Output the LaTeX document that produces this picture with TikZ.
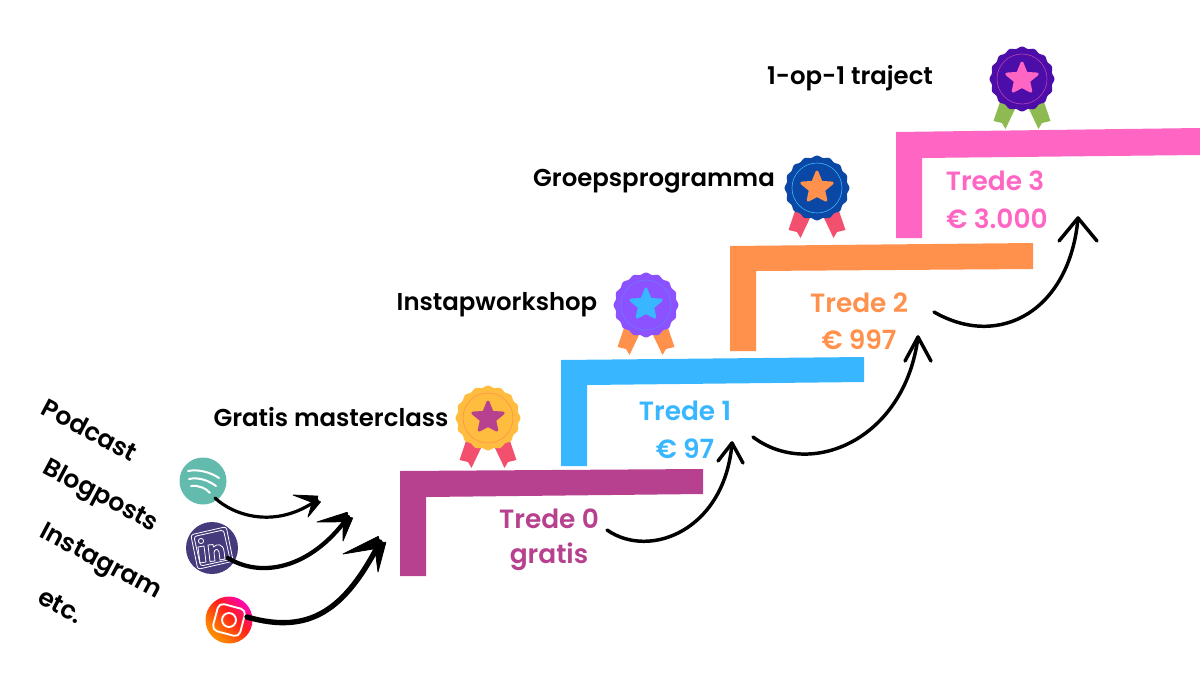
\documentclass[tikz,border=0pt]{standalone}
\usepackage{fontspec}
\setmainfont{Poppins SemiBold}
\usetikzlibrary{calc}
\definecolor{cA}{HTML}{B8418F}
\definecolor{cB}{HTML}{38B6FF}
\definecolor{cC}{HTML}{FF914D}
\definecolor{cD}{HTML}{FF66C4}
\definecolor{gold}{HTML}{FFBD3F}
\definecolor{rib}{HTML}{F2506E}
\definecolor{violetb}{HTML}{8C52FF}
\definecolor{navy}{HTML}{0B47A5}
\definecolor{indigo}{HTML}{4C0DA8}
\definecolor{leaf}{HTML}{8DBB52}
\definecolor{spot}{HTML}{62BBAC}
\definecolor{link}{HTML}{443A7C}
\pgfdeclareverticalshading{insta}{100bp}{color(0bp)=(yellow!70!orange); color(35bp)=(orange); color(55bp)=(red!85!pink); color(72bp)=(magenta!80!red); color(100bp)=(violet!70!blue)}
\tikzset{
  stair/.style={fill=#1,draw=none},
  blk/.style={font=\fontsize{18.3}{22}\selectfont,text=black,inner sep=0pt},
  trd/.style={font=\fontsize{19.8}{22}\selectfont,text=#1,inner sep=0pt},
  side/.style={font=\fontsize{18.8}{22}\selectfont,text=black,inner sep=0pt,rotate=-28},
  flow/.style={draw=black,line cap=round,line join=round,line width=#1},
  iconc/.style={circle,minimum size=#1,inner sep=0pt,draw=none},
}
% badge: name, centre x,y, body, star, ring, ribbon
\newcommand{\badge}[7]{%
  \begin{scope}[shift={(#2,#3)}]
    \fill[#7] (-22,23) -- (-7,30) -- (-16.5,50) -- (-20,44) -- (-28.5,42) -- cycle;
    \fill[#7] (22,23) -- (7,30) -- (16.5,50) -- (20,44) -- (28.5,42) -- cycle;
    \fill[#4] plot[domain=0:360,samples=180,smooth] ({(31.5+0.9*cos(16*\x))*cos(\x)},{(31.5+0.9*cos(16*\x))*sin(\x)}) -- cycle;
    \draw[#6,line width=.45pt] (0,0) circle (25);
    \node[circle,minimum size=50pt,inner sep=0pt] (#1) at (0,0) {};
    \draw[#5,fill=#5,line width=2.2pt,line join=round]
      (-90:16) -- (-54:7) -- (-18:16) -- (18:7) -- (54:15) -- (90:7.5) -- (126:15) -- (162:7) -- (198:16) -- (234:7) -- cycle;
  \end{scope}}
% tapered barb from tip to end, half width at the tip
\newcommand{\barbend}[3]{%
  \fill[black,line join=round,draw=black,line width=.6pt] ($(#1)!#3!90:(#2)$) -- (#2) -- ($(#1)!#3!-90:(#2)$) -- cycle;}
\begin{document}
\begin{tikzpicture}[x=0.75pt,y=-0.75pt]
\useasboundingbox (0,0) rectangle (1200,675);
\fill[white] (0,0) rectangle (1200,675);
% stairs
\fill[stair=cA] (400,576) -- (400,471) -- (703,469) -- (703,494) -- (426,497) -- (426,576) -- cycle;
\fill[stair=cB] (561,466) -- (561,360) -- (864,357) -- (864,382) -- (587,385) -- (587,466) -- cycle;
\fill[stair=cC] (730,351) -- (730,246) -- (1033,243) -- (1033,269) -- (756,271) -- (756,351) -- cycle;
\fill[stair=cD] (896,238) -- (896,132) -- (1200,128) -- (1200,155) -- (922,158) -- (922,238) -- cycle;
% stair labels
\node[trd=cA] (t0) at (549,519) {Trede 0};
\node[trd=cA] (p0) at (549,557) {gratis};
\node[trd=cB] (t1) at (685,411) {Trede 1};
\node[trd=cB] (p1) at (685,449) {€ 97};
\node[trd=cC] (t2) at (859,303) {Trede 2};
\node[trd=cC] (p2) at (859,340) {€ 997};
\node[trd=cD] (t3) at (995,181) {Trede 3};
\node[trd=cD] (p3) at (997,219) {€ 3.000};
% product labels
\node[blk] (l0) at (331,417) {Gratis masterclass};
\node[blk] (l1) at (497,305) {Instapworkshop};
\node[blk] (l2) at (654,181) {Groepsprogramma};
\node[blk] (l3) at (850,78) {1-op-1 traject};
% badges
\badge{b0}{488}{418}{gold}{cA}{cC}{rib}
\badge{b1}{646}{305}{violetb}{cB}{cB!40!violetb}{cC}
\badge{b2}{817}{188}{navy}{cC}{cB}{rib}
\badge{b3}{1022}{79}{indigo}{cD}{cD!60!indigo}{leaf}
% source labels
\node[side] (s1) at (90,430) {Podcast};
\node[side] (s2) at (100,497) {Blogposts};
\node[side] (s3) at (100,563) {Instagram};
\node[side] (s4) at (61,606) {etc.};
% icons
\node[iconc=35.25pt,fill=spot] (ispot) at (203,481) {};
\begin{scope}[shift={(ispot.center)},white,line cap=round,line width=1.5pt]
  \draw (-15,-10) .. controls (-5,-12) and (7,-9) .. (16,-3);
  \draw (-14,-2) .. controls (-5,-4) and (5,-1) .. (13,5);
  \draw (-12,5) .. controls (-5,4) and (3,7) .. (7,12);
\end{scope}
\node[iconc=39pt,fill=link] (ilink) at (212,548) {};
\begin{scope}[shift={(ilink.center)},white,line width=.6pt,line join=round]
  \draw[rotate=5,rounded corners=2pt] (-20,-15) -- (16,-20) -- (20,15) -- (-16,20) -- cycle;
  \draw[rotate=5,rounded corners=2pt] (-17,-13) -- (13,-17) -- (17,13) -- (-13,17) -- cycle;
  \draw (-11,-7) circle (2.6);
  \draw (-14,-1) -- (-8,-2) -- (-6,14) -- (-12,15) -- cycle;
  \draw (-4,-3) -- (1,-3.5) -- (1.5,-1) .. controls (5,-5) and (11,-4) .. (12,3) -- (13,11) -- (8,12) -- (7,4) .. controls (6,0) and (2,1) .. (2,5) -- (3,13) -- (-2,13.5) -- cycle;
\end{scope}
\node[iconc=35.25pt] (iinst) at (229,620) {};
\begin{scope}
  \clip (229,620) circle (23.5);
  \shade[shading=insta,shading angle=-45] (200,590) rectangle (258,650);
\end{scope}
\begin{scope}[shift={(iinst.center)},white]
  \draw[line width=1.4pt,rotate=-15,rounded corners=4pt] (-14,-14) rectangle (14,14);
  \draw[line width=1.4pt] (0,0) circle (7);
\end{scope}
% source arrows
\coordinate (h1) at (317,500); \coordinate (h1a) at (293,495); \coordinate (h1b) at (308,517);
\coordinate (h2) at (348,517); \coordinate (h2a) at (317,522); \coordinate (h2b) at (343,541);
\coordinate (h3) at (380,542); \coordinate (h3a) at (343,554); \coordinate (h3b) at (378,572);
\draw[flow=2.4pt] ($(ispot)+(12,17)$) .. controls (233,515) and (275,530) .. (h1);
\barbend{h1}{h1a}{3pt}\barbend{h1}{h1b}{3pt}
\draw[flow=3.2pt] ($(ilink)+(16,10)$) .. controls (260,578) and (310,570) .. (h2);
\barbend{h2}{h2a}{3.6pt}\barbend{h2}{h2b}{3.6pt}
\draw[flow=4pt] ($(iinst)+(18,-3)$) .. controls (310,635) and (345,610) .. (h3);
\barbend{h3}{h3a}{4.4pt}\barbend{h3}{h3b}{4.4pt}
% step arrows
\coordinate (a0s) at (607,530); \coordinate (a0) at (732,443); \coordinate (a0a) at (718,461); \coordinate (a0b) at (743,463);
\coordinate (a1s) at (753,437); \coordinate (a1) at (918,337); \coordinate (a1a) at (905,361); \coordinate (a1b) at (931,361);
\coordinate (a2s) at (934,312); \coordinate (a2) at (1078,218); \coordinate (a2a) at (1059,241); \coordinate (a2b) at (1097,241);
\draw[flow=2.6pt] (a0s) .. controls (650,560) and (725,530) .. (a0);
\draw[flow=2.6pt] (a0a) -- (a0) -- (a0b);
\draw[flow=2.6pt] (a1s) .. controls (810,480) and (905,440) .. (a1);
\draw[flow=2.6pt] (a1a) -- (a1) -- (a1b);
\draw[flow=2.6pt] (a2s) .. controls (1000,350) and (1070,310) .. (a2);
\draw[flow=2.6pt] (a2a) -- (a2) -- (a2b);
\end{tikzpicture}
\end{document}
